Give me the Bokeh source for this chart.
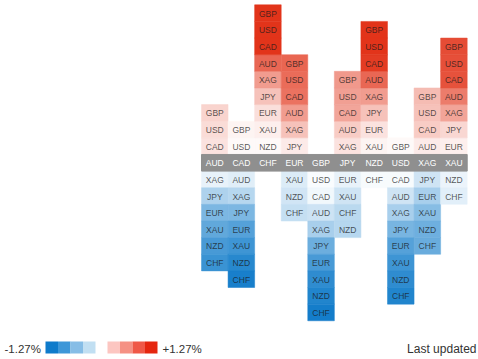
from bokeh.plotting import figure
from bokeh.models import Range1d, ColumnDataSource
from bokeh.embed import file_html
from bokeh.resources import INLINE
from bokeh.core.properties import value

# ---- data ----
currencies = ["AUD", "CAD", "CHF", "EUR", "GBP", "JPY", "NZD", "USD", "XAG", "XAU"]

# cells above the header row, listed from the header upward
up_labels = [
    ["CAD", "USD", "GBP"],
    ["USD", "GBP"],
    ["NZD", "XAU", "EUR", "JPY", "XAG", "AUD", "CAD", "USD", "GBP"],
    ["JPY", "XAG", "AUD", "CAD", "USD", "GBP"],
    [],
    ["XAG", "AUD", "CAD", "USD", "GBP"],
    ["XAU", "EUR", "JPY", "XAG", "AUD", "CAD", "USD", "GBP"],
    ["GBP"],
    ["AUD", "CAD", "USD", "GBP"],
    ["EUR", "JPY", "XAG", "AUD", "CAD", "USD", "GBP"],
]
up_pct = [
    [0.18, 0.22, 0.27],
    [0.04, 0.07],
    [0.04, 0.10, 0.20, 0.38, 0.62, 0.95, 1.27, 1.30, 1.35],
    [0.13, 0.38, 0.62, 0.88, 0.92, 0.96],
    [],
    [0.18, 0.32, 0.56, 0.60, 0.64],
    [0.07, 0.18, 0.38, 0.62, 0.95, 1.22, 1.27, 1.32],
    [0.04],
    [0.13, 0.32, 0.38, 0.42],
    [0.10, 0.25, 0.57, 0.82, 1.08, 1.10, 1.12],
]
# cells below the header row, listed from the header downward
down_labels = [
    ["XAG", "JPY", "EUR", "XAU", "NZD", "CHF"],
    ["AUD", "XAG", "JPY", "EUR", "XAU", "NZD", "CHF"],
    [],
    ["XAU", "NZD", "CHF"],
    ["USD", "CAD", "AUD", "XAG", "JPY", "EUR", "XAU", "NZD", "CHF"],
    ["EUR", "XAU", "CHF", "NZD"],
    ["CHF"],
    ["CAD", "AUD", "XAG", "JPY", "EUR", "XAU", "NZD", "CHF"],
    ["JPY", "EUR", "XAU", "NZD", "CHF"],
    ["NZD", "CHF"],
]
down_pct = [
    [-0.12, -0.42, -0.68, -0.82, -0.95, -1.02],
    [-0.16, -0.38, -0.68, -0.88, -1.00, -1.12, -1.20],
    [],
    [-0.18, -0.24, -0.30],
    [-0.03, -0.07, -0.26, -0.45, -0.76, -0.95, -1.08, -1.15, -1.22],
    [-0.12, -0.25, -0.36, -0.38],
    [-0.04],
    [-0.04, -0.25, -0.45, -0.70, -0.88, -1.00, -1.08, -1.15],
    [-0.25, -0.45, -0.62, -0.75, -0.78],
    [-0.10, -0.15],
]
scale_max = 1.27
legend_blues = ["#0e7bcb", "#3d97d8", "#86bde6", "#c1dff2"]
legend_reds = ["#fcc6c1", "#f59184", "#ef5847", "#e5260f"]
legend_low = "-1.27%"
legend_high = "+1.27%"
footer = "Last updated"

# ---- layout constants ----
W, H = 478, 359
X0, CW = 201.0, 26.57
CH = 16.63
TOP = 4.3
HEADER_TOP = TOP + 9 * CH
FONT = value("Liberation Sans")

RED_END = (226, 52, 26)
BLUE_END = (10, 120, 200)


def cell_color(v):
    t = min(abs(v) / scale_max, 1.0)
    end = RED_END if v > 0 else BLUE_END
    rgb = [int(round(255 + (e - 255) * t)) for e in end]
    return "#%02x%02x%02x" % tuple(rgb)


p = figure(width=W, height=H, output_backend="svg", toolbar_location=None,
           x_range=Range1d(0, W), y_range=Range1d(H, 0), min_border=0)
p.outline_line_color = None
p.axis.visible = False
p.grid.visible = False
p.background_fill_color = "white"
p.border_fill_color = "white"

cells = dict(left=[], right=[], top=[], bottom=[], color=[], label=[], cx=[], cy=[])
for i, cur in enumerate(currencies):
    left = X0 + i * CW
    for k, (lab, v) in enumerate(zip(up_labels[i], up_pct[i])):
        top = HEADER_TOP - (k + 1) * CH
        cells["left"].append(left); cells["right"].append(left + CW)
        cells["top"].append(top); cells["bottom"].append(top + CH)
        cells["color"].append(cell_color(v)); cells["label"].append(lab)
        cells["cx"].append(left + CW / 2); cells["cy"].append(top + CH / 2 + 0.5)
    for k, (lab, v) in enumerate(zip(down_labels[i], down_pct[i])):
        top = HEADER_TOP + (k + 1) * CH
        cells["left"].append(left); cells["right"].append(left + CW)
        cells["top"].append(top); cells["bottom"].append(top + CH)
        cells["color"].append(cell_color(v)); cells["label"].append(lab)
        cells["cx"].append(left + CW / 2); cells["cy"].append(top + CH / 2 + 0.5)

src = ColumnDataSource(cells)
p.quad(left="left", right="right", top="top", bottom="bottom", fill_color="color",
       line_color="color", line_width=0.5, source=src)
p.text(x="cx", y="cy", text="label", source=src, text_font=FONT, text_font_size="8.5px",
       text_color="#1a1a1a", text_alpha=0.75, text_align="center", text_baseline="middle")

# header row
p.quad(left=X0, right=X0 + len(currencies) * CW, top=HEADER_TOP, bottom=HEADER_TOP + CH,
       fill_color="#8f8f8f", line_color="#8f8f8f")
hx = [X0 + i * CW + CW / 2 for i in range(len(currencies))]
p.text(x=hx, y=[HEADER_TOP + CH / 2 + 0.5] * len(currencies), text=currencies, text_font=FONT,
       text_font_size="8.5px", text_color="white", text_align="center", text_baseline="middle")

# legend
LY = 347.0
SQ = 12.5
p.quad(left=[45 + j * SQ for j in range(4)], right=[45 + (j + 1) * SQ for j in range(4)],
       top=[LY - 6] * 4, bottom=[LY + 6] * 4, fill_color=legend_blues, line_color=None)
p.quad(left=[107 + j * SQ for j in range(4)], right=[107 + (j + 1) * SQ for j in range(4)],
       top=[LY - 6] * 4, bottom=[LY + 6] * 4, fill_color=legend_reds, line_color=None)
p.text(x=[4, 162], y=[LY + 1.5, LY + 1.5], text=[legend_low, legend_high], text_font=FONT,
       text_font_size="11.5px", text_color="#333333", text_align="left", text_baseline="middle")
p.text(x=[476], y=[LY + 1.5], text=[footer], text_font=FONT, text_font_size="12px",
       text_color="#333333", text_align="right", text_baseline="middle")

open("out.html", "w").write(file_html(p, INLINE))
